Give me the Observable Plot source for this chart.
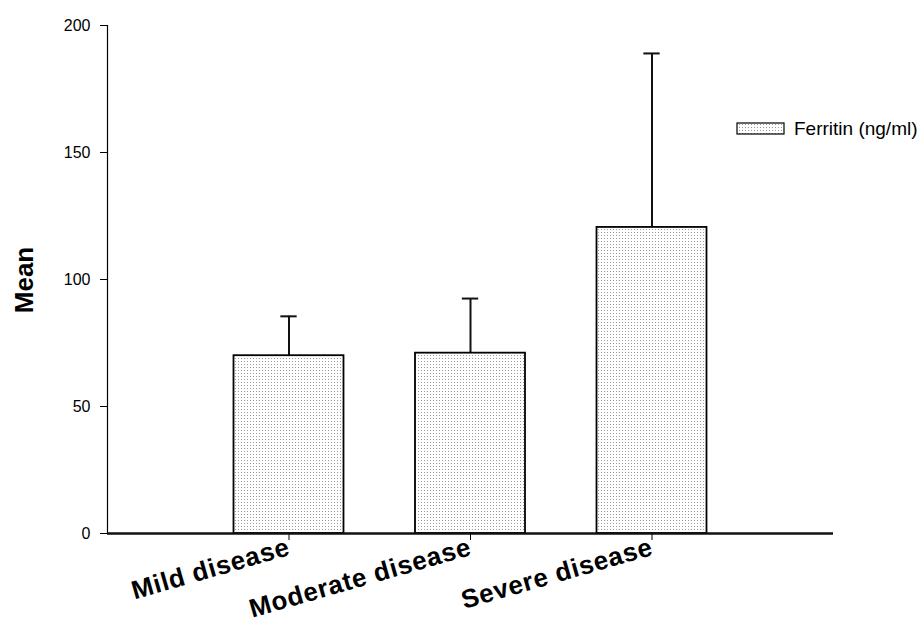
<!DOCTYPE html>
<html>
<head>
<meta charset="utf-8">
<script src="https://cdn.jsdelivr.net/npm/d3@7"></script>
<script src="https://cdn.jsdelivr.net/npm/@observablehq/plot@0.6"></script>
<style>
  html, body { margin: 0; padding: 0; background: #fff; }
  #chart { position: relative; width: 924px; height: 630px; }
  svg { font-family: "Liberation Sans", Arial, sans-serif; }
</style>
</head>
<body>
<div id="chart"></div>
<script>
const categories = ["Mild disease", "Moderate disease", "Severe disease"];
const means = [70, 71, 120.5];
const sds = [15.5, 21.5, 68.5];
const yTicks = [0, 50, 100, 150, 200];
const seriesName = "Ferritin (ng/ml)";

const data = categories.map((c, k) => ({cat: c, pos: k + 1, mean: means[k], upper: means[k] + sds[k]}));
const halfBar = 0.303;
const halfCap = 0.045;

const plot = Plot.plot({
  width: 924,
  height: 630,
  marginLeft: 107,
  marginRight: 91,
  marginTop: 25,
  marginBottom: 97,
  style: {fontFamily: "'Liberation Sans', Arial, sans-serif", background: "#fff", color: "#000"},
  x: {type: "linear", domain: [0, categories.length + 1]},
  y: {domain: [0, 200]},
  marks: [
    Plot.ruleX(data, {x: "pos", y1: "mean", y2: "upper", stroke: "#111", strokeWidth: 2}),
    Plot.ruleY(data, {y: "upper", x1: d => d.pos - halfCap, x2: d => d.pos + halfCap, stroke: "#111", strokeWidth: 2}),
    Plot.rectY(data, {x1: d => d.pos - halfBar, x2: d => d.pos + halfBar, y: "mean", fill: "url(#dots)", stroke: "#000", strokeWidth: 1.8}),
    Plot.axisY({ticks: yTicks, tickSize: 7, fontSize: 16, tickPadding: 10, label: null}),
    Plot.ruleX([0], {stroke: "#000", strokeWidth: 1.2}),
    Plot.ruleY([0], {stroke: "#111", strokeWidth: 2.5}),
    Plot.axisX({
      ticks: data.map(d => d.pos),
      tickFormat: v => categories[v - 1],
      tickSize: 7,
      tickRotate: -16,
      fontSize: 26,
      fontWeight: "bold",
      tickPadding: 6,
      label: null
    })
  ]
});

const svg = d3.select(plot);
svg.selectAll("[aria-label='x-axis tick label'] text").attr("letter-spacing", 0.7);
const defs = svg.insert("defs", ":first-child");
const pat = defs.append("pattern").attr("id", "dots").attr("patternUnits", "userSpaceOnUse")
  .attr("width", 3).attr("height", 3);
pat.append("rect").attr("width", 3).attr("height", 3).attr("fill", "#fff");
pat.append("rect").attr("x", 1).attr("y", 1).attr("width", 1).attr("height", 1).attr("fill", "#9a9a9a");

// Y axis title
svg.append("text")
  .attr("transform", "translate(33,280) rotate(-90)")
  .attr("text-anchor", "middle")
  .attr("font-size", 26).attr("font-weight", "bold")
  .text("Mean");

// Legend
const lg = svg.append("g");
lg.append("rect").attr("x", 737).attr("y", 123).attr("width", 47).attr("height", 11)
  .attr("fill", "url(#dots)").attr("stroke", "#000").attr("stroke-width", 1.2);
lg.append("text").attr("x", 794).attr("y", 135).attr("text-anchor", "start")
  .attr("font-size", 19).text(seriesName);

document.getElementById("chart").appendChild(plot);
</script>
</body>
</html>
